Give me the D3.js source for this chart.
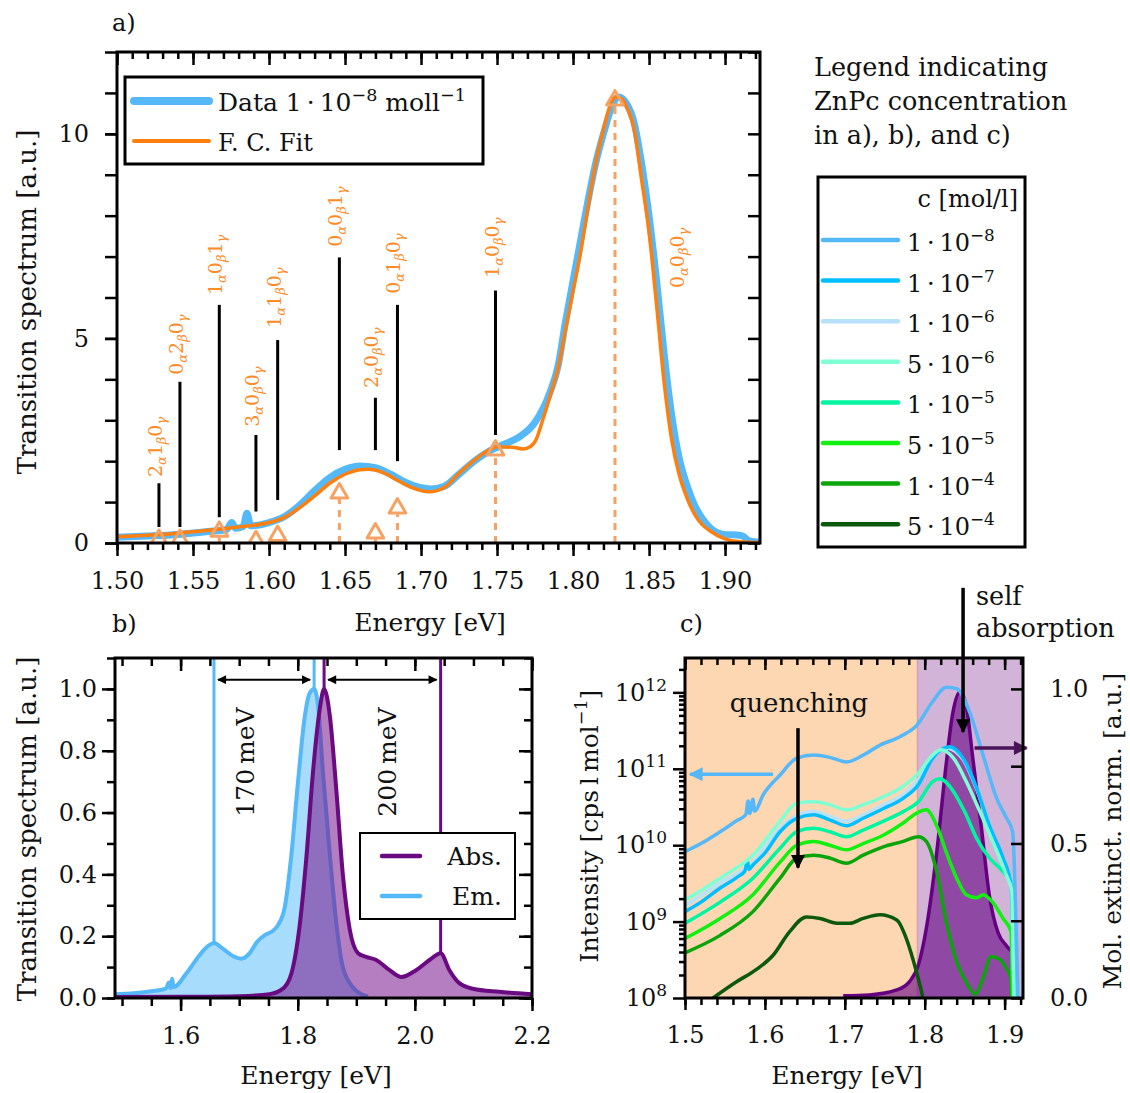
<!DOCTYPE html>
<html><head><meta charset="utf-8">
<script src="https://cdn.jsdelivr.net/npm/d3@7"></script>
<style>
html,body{margin:0;padding:0;background:#fff;}
svg text{font-family:"DejaVu Serif",serif;fill:#111;}
</style></head>
<body><svg id="fig" width="1130" height="1093"></svg>
<script>
// ================= DATA =================
// Panel a: measured transition spectrum (1e-8 mol/l) and Franck-Condon fit
const aDataE = [1.500,1.520,1.540,1.560,1.572,1.5755,1.578,1.583,1.5855,1.588,1.600,1.610,1.620,1.630,1.640,1.650,1.660,1.670,1.680,1.690,1.700,1.706,1.715,1.725,1.735,1.745,1.755,1.765,1.775,1.785,1.790,1.795,1.800,1.805,1.810,1.815,1.820,1.825,1.830,1.835,1.840,1.845,1.850,1.855,1.860,1.865,1.870,1.875,1.880,1.885,1.890,1.895,1.900,1.905,1.911,1.916,1.923];
const aDataV = [0.14,0.17,0.21,0.28,0.33,0.50,0.36,0.40,0.73,0.42,0.50,0.64,0.92,1.28,1.60,1.80,1.88,1.84,1.68,1.48,1.35,1.32,1.38,1.68,2.00,2.25,2.42,2.60,2.95,3.70,4.30,5.40,6.40,7.40,8.40,9.30,10.0,10.6,10.9,10.75,10.3,9.3,8.0,6.4,4.6,3.1,2.05,1.40,0.92,0.60,0.38,0.25,0.20,0.20,0.18,0.05,0.02];
const aFitE = [1.500,1.520,1.540,1.560,1.580,1.600,1.610,1.620,1.630,1.640,1.650,1.660,1.665,1.675,1.685,1.695,1.705,1.715,1.725,1.735,1.745,1.750,1.760,1.767,1.772,1.776,1.780,1.785,1.790,1.795,1.800,1.805,1.810,1.815,1.820,1.825,1.828,1.832,1.836,1.840,1.845,1.850,1.855,1.860,1.865,1.870,1.875,1.880,1.885,1.890,1.900,1.910,1.923];
const aFitV = [0.15,0.19,0.24,0.31,0.39,0.50,0.62,0.86,1.15,1.46,1.68,1.79,1.80,1.72,1.52,1.34,1.25,1.35,1.70,2.02,2.28,2.35,2.34,2.30,2.36,2.55,3.00,3.60,4.25,5.20,6.15,7.10,8.25,9.30,10.1,10.75,10.9,10.85,10.6,10.15,8.9,7.6,5.8,3.9,2.5,1.65,1.10,0.70,0.45,0.30,0.10,0.03,0.01];
// vibronic transitions
const aTransNames = ["2α1β0γ","0α2β0γ","1α0β1γ","3α0β0γ","1α1β0γ","0α0β1γ","2α0β0γ","0α1β0γ","1α0β0γ","0α0β0γ"];
const aTransE     = [1.5276,1.5414,1.5673,1.5914,1.6057,1.6463,1.6700,1.6845,1.7490,1.8276];
const aStickLow   = [0.39,0.39,0.63,0.77,1.05,2.27,2.27,2.00,2.64,null];
const aStickHigh  = [1.46,3.94,5.82,2.64,4.96,6.98,3.55,5.82,6.17,null];
const aTriangleV  = [0.08,0.08,0.28,0.05,0.18,1.22,0.24,0.85,2.27,10.82];
const aLabelE     = [1.5276,1.5414,1.5673,1.5914,1.6057,1.6463,1.6700,1.6845,1.7490,1.8710];
const aLabelV     = [1.61,4.11,6.06,2.84,5.26,7.24,3.79,6.09,6.48,6.23];
const aXTicks = [1.50,1.55,1.60,1.65,1.70,1.75,1.80,1.85,1.90];
const aYTicks = [0,5,10];

// Panel b: normalised emission and absorption
const bEmE = [1.488,1.520,1.550,1.575,1.580,1.583,1.5855,1.588,1.610,1.633,1.648,1.657,1.672,1.690,1.704,1.718,1.730,1.745,1.756,1.766,1.778,1.789,1.800,1.812,1.820,1.828,1.835,1.843,1.855,1.866,1.877,1.894,1.911,1.920];
const bEmV = [0.012,0.015,0.022,0.030,0.050,0.032,0.062,0.035,0.080,0.140,0.170,0.178,0.160,0.135,0.127,0.145,0.180,0.205,0.215,0.235,0.295,0.460,0.690,0.910,0.985,1.000,0.940,0.730,0.460,0.240,0.100,0.035,0.010,0.004];
const bAbsE = [1.488,1.600,1.700,1.740,1.758,1.778,1.792,1.803,1.815,1.826,1.838,1.845,1.855,1.866,1.877,1.889,1.903,1.917,1.934,1.957,1.977,2.002,2.025,2.044,2.059,2.076,2.099,2.144,2.200];
const bAbsV = [0.003,0.004,0.006,0.010,0.015,0.036,0.100,0.230,0.460,0.730,0.940,1.000,0.910,0.670,0.400,0.220,0.145,0.133,0.123,0.090,0.068,0.090,0.123,0.145,0.090,0.048,0.030,0.020,0.012];
const bEmMarks  = [1.657,1.828];
const bAbsMarks = [1.845,2.044];
const bShiftLabels = ["170\u2009meV","200\u2009meV"];
const bXTicks = [1.6,1.8,2.0,2.2];
const bYTicks = [0.0,0.2,0.4,0.6,0.8,1.0];

// Panel c: concentration-dependent emission (log) and absorption (linear, right axis)
const cConcMant = [1,1,1,5,1,5,1,5];
const cConcExp  = [-8,-7,-6,-6,-5,-5,-4,-4];
const cColors   = ["#55b8f8","#00bfff","#b8e2fb","#7fffd4","#00f5a0","#11f011","#0aa50a","#0b5a0b"];
const cE_1e8 = [1.500,1.520,1.544,1.565,1.576,1.579,1.581,1.585,1.587,1.598,1.619,1.640,1.661,1.681,1.702,1.723,1.744,1.769,1.790,1.810,1.827,1.840,1.856,1.873,1.890,1.902,1.910,1.915,1.918];
const cI_1e8 = [8.2e9,1.05e10,1.5e10,2.1e10,2.5e10,3.8e10,2.6e10,4.0e10,2.8e10,4.6e10,8.3e10,1.38e11,1.51e11,1.41e11,1.23e11,1.51e11,2.04e11,2.63e11,3.7e11,7.6e11,1.17e12,1.12e12,5.6e11,1.51e11,4.1e10,2.3e10,1.5e10,4.9e8,3e7];
const cE_1e7 = [1.500,1.520,1.544,1.565,1.575,1.578,1.580,1.585,1.600,1.619,1.640,1.661,1.681,1.702,1.723,1.748,1.773,1.792,1.810,1.831,1.848,1.865,1.881,1.898,1.908,1.911,1.913];
const cI_1e7 = [1.35e9,1.8e9,2.75e9,3.8e9,4.6e9,6.3e9,4.8e9,5.5e9,7.9e9,1.5e10,2.25e10,2.5e10,2.15e10,1.8e10,2.25e10,3.0e10,4.1e10,6.2e10,1.38e11,1.95e11,1.38e11,5.6e10,1.8e10,6.8e9,3.0e9,3.2e8,3e7];
const cE_1e6 = [1.500,1.544,1.585,1.619,1.640,1.661,1.681,1.702,1.723,1.748,1.773,1.792,1.812,1.828,1.848,1.865,1.881,1.898,1.908,1.911,1.913];
const cI_1e6 = [1.6e9,3.2e9,6.0e9,1.65e10,2.45e10,2.75e10,2.4e10,2.05e10,2.5e10,3.4e10,4.6e10,7.2e10,1.48e11,1.86e11,1.32e11,5.4e10,1.78e10,6.6e9,3.2e9,3.2e8,3e7];
const cE_5e6 = [1.500,1.544,1.585,1.619,1.640,1.661,1.681,1.702,1.723,1.748,1.773,1.792,1.810,1.820,1.836,1.852,1.869,1.885,1.902,1.909,1.911,1.913];
const cI_5e6 = [1.9e9,3.7e9,7.4e9,2.05e10,3.55e10,3.7e10,3.4e10,2.9e10,3.4e10,4.3e10,5.9e10,8.7e10,1.51e11,1.78e11,1.38e11,6.8e10,2.75e10,1.12e10,4.1e9,2.5e9,2.5e8,3e7];
const cE_1e5 = [1.500,1.544,1.585,1.619,1.640,1.661,1.681,1.702,1.723,1.748,1.773,1.792,1.810,1.819,1.833,1.850,1.865,1.881,1.894,1.905,1.909,1.911,1.913];
const cI_1e5 = [9.5e8,1.8e9,3.7e9,9.1e9,1.5e10,1.66e10,1.5e10,1.29e10,1.58e10,2.05e10,2.75e10,3.7e10,6.8e10,7.4e10,5.6e10,2.75e10,1.23e10,6.8e9,5.0e9,3.7e9,3.2e9,2e8,3e7];
const cE_5e5 = [1.500,1.544,1.585,1.619,1.640,1.661,1.681,1.702,1.723,1.748,1.773,1.790,1.802,1.815,1.827,1.840,1.852,1.865,1.873,1.885,1.898,1.908,1.910,1.912];
const cI_5e5 = [6.0e8,1.1e9,2.25e9,6.0e9,1.0e10,1.12e10,1.0e10,8.7e9,1.05e10,1.35e10,1.95e10,2.63e10,2.9e10,1.8e10,8.1e9,3.7e9,2.25e9,2.05e9,2.25e9,1.8e9,1.1e9,7.4e8,1e8,3e7];
const cE_1e4 = [1.500,1.544,1.585,1.619,1.640,1.661,1.681,1.702,1.723,1.748,1.773,1.792,1.802,1.815,1.827,1.840,1.854,1.863,1.873,1.883,1.894,1.902,1.908,1.910];
const cI_1e4 = [3.9e8,6.6e8,1.35e9,3.7e9,6.8e9,7.4e9,6.8e9,5.8e9,7.4e9,9.5e9,1.12e10,1.29e10,1.12e10,4.5e9,1.0e9,3.0e8,1.48e8,1.12e8,1.8e8,3.5e8,3.2e8,2.45e8,1.8e8,3e7];
const cE_5e4 = [1.535,1.564,1.589,1.610,1.631,1.652,1.669,1.690,1.706,1.723,1.744,1.765,1.777,1.785,1.794,1.800];
const cI_5e4 = [1.0e8,1.62e8,2.35e8,3.6e8,7.4e8,1.15e9,1.1e9,9.5e8,9.5e8,1.1e9,1.23e9,1.05e9,6.0e8,3.3e8,1.48e8,8e7];
const cAbsE = [1.698,1.731,1.765,1.781,1.792,1.802,1.815,1.827,1.835,1.844,1.852,1.860,1.871,1.881,1.892,1.902,1.909];
const cAbsV = [0.007,0.010,0.026,0.053,0.106,0.225,0.470,0.760,0.920,0.990,0.945,0.780,0.550,0.330,0.210,0.170,0.150];
const cRegionSplit = 1.791;
const cXTicks = [1.5,1.6,1.7,1.8,1.9];
const cYTicks = [1e8,1e9,1e10,1e11,1e12];
const cY2Ticks = [0.0,0.5,1.0];

// ================= DRAWING =================
const svg = d3.select("#fig");
const defs = svg.append("defs");
const FONT = "DejaVu Serif";
const WORD = 25.5; // size of word-type texts

function marker(id, color, w, h){
  defs.append("marker").attr("id",id).attr("viewBox","0 0 10 10").attr("refX",9).attr("refY",5)
    .attr("markerWidth",w).attr("markerHeight",h).attr("orient","auto-start-reverse")
    .attr("markerUnits","userSpaceOnUse")
    .append("path").attr("d","M0,0 L10,5 L0,10 z").attr("fill",color);
}
marker("arrBlk","#000",12,9);
marker("arrBig","#000",20,14);
marker("arrBlue","#55b8f8",20,14);
marker("arrPur","#4a1458",20,14);

function clip(id,x0,y0,x1,y1){
  defs.append("clipPath").attr("id",id).append("rect").attr("x",x0).attr("y",y0).attr("width",x1-x0).attr("height",y1-y0);
}
function frame(x0,y0,x1,y1){
  svg.append("rect").attr("x",x0).attr("y",y0).attr("width",x1-x0).attr("height",y1-y0)
    .attr("fill","none").attr("stroke","#000").attr("stroke-width",3);
}
function ax(kind, scale, tx, ty, vals, size, fmt, pad){
  const a = d3[kind](scale).tickValues(vals).tickSize(size).tickPadding(pad===undefined?6:pad).tickFormat(fmt||(()=>""));
  const g = svg.append("g").attr("transform",`translate(${tx},${ty})`).call(a);
  g.select(".domain").remove();
  g.selectAll(".tick line").attr("stroke","#000").attr("stroke-width",2.5);
  g.selectAll(".tick text").attr("font-size",24).attr("font-family",FONT).attr("fill","#111");
  return g;
}
function rich(sel, parts, fs){
  let shifted = 0;
  parts.forEach(p=>{
    const ts = sel.append("tspan").text(p.t);
    if(p.sup){ ts.attr("font-size",fs*0.7).attr("dy",-fs*0.42); shifted = fs*0.42; }
    else if(shifted){ ts.attr("dy",shifted); shifted = 0; }
  });
}
function text(x,y,str,opt={}){
  const fs = opt.size||24;
  const t = svg.append("text").attr("x",x).attr("y",y).attr("font-size",fs)
    .attr("text-anchor",opt.anchor||"start");
  if(opt.rot) t.attr("transform",`rotate(${opt.rot},${x},${y})`);
  if(opt.dy) t.attr("dy",opt.dy);
  if(Array.isArray(str)) rich(t,str,fs); else t.text(str);
  return t;
}
const range = (a,b,step)=>d3.range(Math.round(a/step),Math.round(b/step)+1).map(i=>+(i*step).toFixed(4));

// ---------- Panel a ----------
const aX = d3.scaleLinear().domain([1.5,1.923]).range([117,760]);
const aY = d3.scaleLinear().domain([0,12]).range([543,52]);
clip("clipA",117,52,760,543);
const ga = svg.append("g").attr("clip-path","url(#clipA)");
const lineA = (E,V)=>d3.line().x((d,i)=>aX(E[i])).y((d,i)=>aY(V[i])).curve(d3.curveMonotoneX)(E);
ga.append("path").attr("d",lineA(aDataE,aDataV)).attr("fill","none").attr("stroke","#55b8f8").attr("stroke-width",7).attr("stroke-linejoin","round");
ga.append("path").attr("d",lineA(aFitE,aFitV)).attr("fill","none").attr("stroke","#ff7f0e").attr("stroke-width",3.5);
aTransE.forEach((e,i)=>{
  ga.append("line").attr("x1",aX(e)).attr("x2",aX(e)).attr("y1",aY(0)).attr("y2",aY(aTriangleV[i])+6)
    .attr("stroke","#f5a262").attr("stroke-width",3).attr("stroke-dasharray","7,6");
});
aTransE.forEach((e,i)=>{
  if(aStickLow[i]===null) return;
  svg.append("line").attr("x1",aX(e)).attr("x2",aX(e)).attr("y1",aY(aStickLow[i])).attr("y2",aY(aStickHigh[i]))
    .attr("stroke","#000").attr("stroke-width",3);
});
aTransE.forEach((e,i)=>{
  ga.append("path").attr("d",d3.symbol(d3.symbolTriangle,120)())
    .attr("transform",`translate(${aX(e)},${aY(aTriangleV[i])})`)
    .attr("fill","none").attr("stroke","#f5a262").attr("stroke-width",3).attr("stroke-linejoin","round");
});
aTransNames.forEach((name,i)=>{
  const x = aX(aLabelE[i])+3, y = aY(aLabelV[i]);
  const t = svg.append("text").attr("transform",`translate(${x},${y}) rotate(-90)`).style("fill","#ff8a26");
  Array.from(name).forEach((ch,k)=>{
    const greek = /[αβγ]/.test(ch);
    t.append("tspan").text(ch).attr("font-size",greek?13:19)
      .attr("font-style",greek?"italic":"normal")
      .attr("dy",greek?4:(k>0?-4:0)).style("fill","#ff8a26");
  });
});
frame(117,52,760,543);
ax("axisBottom",aX,0,543,range(1.50,1.92,0.01),7);
ax("axisBottom",aX,0,543,aXTicks,13,d3.format(".2f"),16);
ax("axisTop",aX,0,52,range(1.50,1.92,0.01),-7);
ax("axisTop",aX,0,52,aXTicks,-13);
ax("axisLeft",aY,117,0,range(0,12,1),12);
ax("axisLeft",aY,117,0,aYTicks,12,d3.format("d"),16);
ax("axisRight",aY,760,0,range(0,12,1),-12);
// legend a
svg.append("rect").attr("x",125).attr("y",77).attr("width",358).attr("height",87).attr("fill","#fff").attr("stroke","#000").attr("stroke-width",3);
svg.append("line").attr("x1",134).attr("x2",209).attr("y1",101).attr("y2",101).attr("stroke","#55b8f8").attr("stroke-width",8).attr("stroke-linecap","round");
svg.append("line").attr("x1",134).attr("x2",209).attr("y1",141).attr("y2",141).attr("stroke","#ff7f0e").attr("stroke-width",4).attr("stroke-linecap","round");
text(218,111,[{t:"Data 1\u2009·\u200910"},{t:"−8",sup:true},{t:" moll"},{t:"−1",sup:true}],{size:25});
text(218,151,"F. C. Fit");
text(112,31,"a)");
text(430,631,"Energy [eV]",{anchor:"middle",size:25});
text(27,302,"Transition spectrum [a.u.]",{anchor:"middle",rot:-90,dy:"0.35em",size:26});

// ---------- right legend ----------
text(814,76,"Legend indicating",{size:WORD});
text(814,110,"ZnPc concentration",{size:WORD});
text(814,144,"in a), b), and c)",{size:WORD});
svg.append("rect").attr("x",818).attr("y",177).attr("width",207).attr("height",370).attr("fill","#fff").attr("stroke","#000").attr("stroke-width",3);
text(1018,207,"c [mol/l]",{anchor:"end"});
cConcMant.forEach((m,i)=>{
  const y = 240 + i*40.6;
  svg.append("line").attr("x1",823).attr("x2",898).attr("y1",y).attr("y2",y).attr("stroke",cColors[i]).attr("stroke-width",4.5).attr("stroke-linecap","round");
  text(907,y+11,[{t:`${m}\u2009·\u200910`},{t:`−${-cConcExp[i]}`,sup:true}]);
});

// ---------- Panel b ----------
const bX = d3.scaleLinear().domain([1.488,2.2]).range([115,532]);
const bY = d3.scaleLinear().domain([0,1.1]).range([998,658]);
clip("clipB",115,658,532,998);
const gb = svg.append("g").attr("clip-path","url(#clipB)");
const areaB = (E,V)=>d3.area().x((d,i)=>bX(E[i])).y0(bY(0)).y1((d,i)=>bY(V[i])).curve(d3.curveMonotoneX)(E);
const lineB = (E,V)=>d3.line().x((d,i)=>bX(E[i])).y((d,i)=>bY(V[i])).curve(d3.curveMonotoneX)(E);
bEmMarks.forEach(e=>{
  const v = bEmV[d3.minIndex(bEmE,x=>Math.abs(x-e))];
  gb.append("line").attr("x1",bX(e)).attr("x2",bX(e)).attr("y1",bY(v)).attr("y2",bY(1.1)).attr("stroke","#55b8f8").attr("stroke-width",3);
});
bAbsMarks.forEach(e=>{
  const v = bAbsV[d3.minIndex(bAbsE,x=>Math.abs(x-e))];
  gb.append("line").attr("x1",bX(e)).attr("x2",bX(e)).attr("y1",bY(v)).attr("y2",bY(1.1)).attr("stroke","#6a0a80").attr("stroke-width",3);
});
gb.append("path").attr("d",areaB(bEmE,bEmV)).attr("fill","rgba(80,185,250,0.5)");
gb.append("path").attr("d",lineB(bEmE,bEmV)).attr("fill","none").attr("stroke","#55b8f8").attr("stroke-width",4);
gb.append("path").attr("d",areaB(bAbsE,bAbsV)).attr("fill","rgba(120,20,140,0.55)");
gb.append("path").attr("d",lineB(bAbsE,bAbsV)).attr("fill","none").attr("stroke","#6a0a80").attr("stroke-width",4);
const arrY = bY(1.03);
[[bEmMarks[0],bEmMarks[1]],[bAbsMarks[0],bAbsMarks[1]]].forEach((p,i)=>{
  svg.append("line").attr("x1",bX(p[0])+4).attr("x2",bX(p[1])-4).attr("y1",arrY).attr("y2",arrY)
    .attr("stroke","#000").attr("stroke-width",2).attr("marker-start","url(#arrBlk)").attr("marker-end","url(#arrBlk)");
  text(i===0?245:387,762,bShiftLabels[i],{anchor:"middle",rot:-90,dy:"0.35em",size:25});
});
frame(115,658,532,998);
ax("axisBottom",bX,0,998,range(1.50,2.20,0.05),8);
ax("axisBottom",bX,0,998,bXTicks,13,d3.format(".1f"),16);
ax("axisTop",bX,0,658,range(1.50,2.20,0.05),-8);
ax("axisTop",bX,0,658,bXTicks,-13);
ax("axisLeft",bY,115,0,range(0,1.1,0.1),8);
ax("axisLeft",bY,115,0,bYTicks,13,d3.format(".1f"),5);
ax("axisRight",bY,532,0,range(0,1.1,0.1),-8);
ax("axisRight",bY,532,0,bYTicks,-13);
svg.append("rect").attr("x",360).attr("y",833).attr("width",155).attr("height",86).attr("fill","#fff").attr("stroke","#000").attr("stroke-width",2);
svg.append("line").attr("x1",382).attr("x2",420).attr("y1",856).attr("y2",856).attr("stroke","#6a0a80").attr("stroke-width",4.5).attr("stroke-linecap","round");
svg.append("line").attr("x1",382).attr("x2",420).attr("y1",896).attr("y2",896).attr("stroke","#55b8f8").attr("stroke-width",4.5).attr("stroke-linecap","round");
text(502,865,"Abs.",{anchor:"end",size:25});
text(502,905,"Em.",{anchor:"end",size:25});
text(112,632,"b)");
text(316,1084,"Energy [eV]",{anchor:"middle",size:25});
text(27,829,"Transition spectrum [a.u.]",{anchor:"middle",rot:-90,dy:"0.35em",size:26});

// ---------- Panel c ----------
const cX = d3.scaleLinear().domain([1.5,1.923]).range([685,1023]);
const cY = d3.scaleLog().domain([1e8,Math.pow(10,12.45)]).range([998,658]);
const cY2 = d3.scaleLinear().domain([0,1.1]).range([998,658]);
clip("clipC",685,658,1023,998);
const gc = svg.append("g").attr("clip-path","url(#clipC)");
gc.append("rect").attr("x",cX(1.5)).attr("y",658).attr("width",cX(cRegionSplit)-cX(1.5)).attr("height",340).attr("fill","#fdd6b2");
gc.append("rect").attr("x",cX(cRegionSplit)).attr("y",658).attr("width",cX(1.923)-cX(cRegionSplit)).attr("height",340).attr("fill","#d3b4d9");
gc.append("line").attr("x1",cX(cRegionSplit)).attr("x2",cX(cRegionSplit)).attr("y1",658).attr("y2",998).attr("stroke","#d8a0a8").attr("stroke-width",1.5);
gc.append("path").attr("d",d3.area().x((d,i)=>cX(cAbsE[i])).y0(cY2(0)).y1((d,i)=>cY2(cAbsV[i])).curve(d3.curveMonotoneX)(cAbsE))
  .attr("fill","rgba(100,0,130,0.6)");
gc.append("path").attr("d",d3.line().x((d,i)=>cX(cAbsE[i])).y((d,i)=>cY2(cAbsV[i])).curve(d3.curveMonotoneX)(cAbsE))
  .attr("fill","none").attr("stroke","#650080").attr("stroke-width",3.5);
const cSeries = [[cE_1e8,cI_1e8],[cE_1e7,cI_1e7],[cE_1e6,cI_1e6],[cE_5e6,cI_5e6],[cE_1e5,cI_1e5],[cE_5e5,cI_5e5],[cE_1e4,cI_1e4],[cE_5e4,cI_5e4]];
const drawOrder = [7,6,5,4,2,1,3,0];
drawOrder.forEach(k=>{
  const [E,I] = cSeries[k];
  gc.append("path").attr("d",d3.line().x((d,i)=>cX(E[i])).y((d,i)=>cY(Math.max(I[i],1e7))).curve(d3.curveMonotoneX)(E))
    .attr("fill","none").attr("stroke",cColors[k]).attr("stroke-width",3.5).attr("stroke-linejoin","round");
});
svg.append("line").attr("x1",cX(1.6102)).attr("x2",cX(1.5063)).attr("y1",cY(8.5e10)).attr("y2",cY(8.5e10))
  .attr("stroke","#55b8f8").attr("stroke-width",3.5).attr("marker-end","url(#arrBlue)");
svg.append("line").attr("x1",cX(1.8623)).attr("x2",cX(1.9274)).attr("y1",cY2(0.809)).attr("y2",cY2(0.809))
  .attr("stroke","#4a1458").attr("stroke-width",3.5).attr("marker-end","url(#arrPur)");
svg.append("line").attr("x1",cX(1.6414)).attr("x2",cX(1.6414)).attr("y1",cY(3.4e11)).attr("y2",cY(5.1e9))
  .attr("stroke","#000").attr("stroke-width",3.5).attr("marker-end","url(#arrBig)");
svg.append("line").attr("x1",cX(1.848)).attr("x2",cX(1.848)).attr("y1",cY2(1.327)).attr("y2",cY2(0.861))
  .attr("stroke","#000").attr("stroke-width",3.5).attr("marker-end","url(#arrBig)");
text(799,712,"quenching",{anchor:"middle",size:26});
text(976,605,"self",{size:WORD});
text(976,637,"absorption",{size:WORD});
frame(685,658,1023,998);
ax("axisBottom",cX,0,998,range(1.50,1.92,0.02),7);
ax("axisBottom",cX,0,998,cXTicks,12,d3.format(".1f"),16);
ax("axisTop",cX,0,658,range(1.50,1.92,0.02),-7);
ax("axisTop",cX,0,658,cXTicks,-12);
const cMinor = [];
[1e8,1e9,1e10,1e11,1e12].forEach(d=>{for(let m=2;m<=9;m++){ if(d*m<=Math.pow(10,12.45)) cMinor.push(d*m);} });
ax("axisLeft",cY,685,0,cMinor,6);
const gl = ax("axisLeft",cY,685,0,cYTicks,12,d=>"",6);
gl.selectAll(".tick text").each(function(d){
  const t = d3.select(this);
  t.append("tspan").text("10");
  t.append("tspan").text(Math.round(Math.log10(d))).attr("font-size",17).attr("dy",-10);
});
ax("axisRight",cY2,1023,0,[0.25,0.75],-12);
ax("axisRight",cY2,1023,0,cY2Ticks,-12,d3.format(".1f"),27);
text(680,632,"c)");
text(847,1084,"Energy [eV]",{anchor:"middle",size:25});
text(589,826,[{t:"Intensity [cps\u2009l\u2009mol"},{t:"−1",sup:true},{t:"]"}],{anchor:"middle",rot:-90,dy:"0.35em",size:25});
text(1112,831,"Mol. extinct. norm. [a.u.]",{anchor:"middle",rot:-90,dy:"0.35em",size:25});
</script>
</body></html>
